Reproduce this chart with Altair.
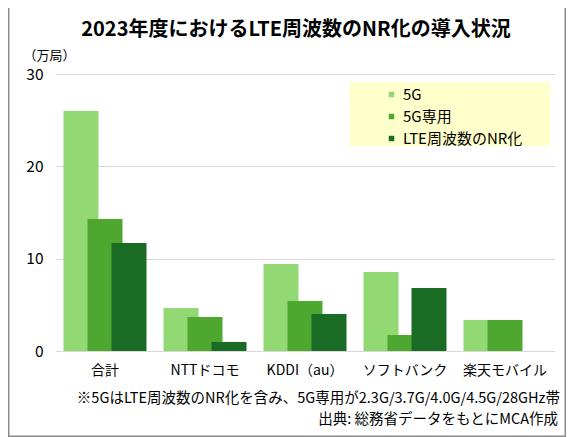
import pandas as pd
import altair as alt

FONT = "Noto Sans CJK JP"

companies = ["合計", "NTTドコモ", "KDDI（au）", "ソフトバンク", "楽天モバイル"]
series_names = ["5G", "5G専用", "LTE周波数のNR化"]
series_colors = ["#92D974", "#4EA72E", "#1A6B24"]

five_g = [26.0, 4.66, 9.43, 8.56, 3.36]
five_g_only = [14.3, 3.68, 5.42, 1.73, 3.36]
lte_nr = [11.7, 0.98, 4.0, 6.83, 0.0]

y_ticks = [0, 10, 20, 30]

title_text = "2023年度におけるLTE周波数のNR化の導入状況"
note_text = "※5GはLTE周波数のNR化を含み、5G専用が2.3G/3.7G/4.0G/4.5G/28GHz帯"
source_text = "出典: 総務省データをもとにMCA作成"

rows = []
for name, vals in zip(series_names, [five_g, five_g_only, lte_nr]):
    for c, v in zip(companies, vals):
        rows.append({"company": c, "series": name, "value": v})
df = pd.DataFrame(rows)

W, H = 500, 277
one = pd.DataFrame({"a": [0]})

x_enc = alt.X(
    "company:N",
    sort=companies,
    scale=alt.Scale(domain=companies, paddingInner=0, paddingOuter=0),
    axis=alt.Axis(labelAngle=0, domain=False, ticks=False, labelFontSize=14,
                  labelPadding=12, labelColor="#000000", labelFont=FONT, title=None),
)
y_enc = alt.Y(
    "value:Q",
    scale=alt.Scale(domain=[0, 30], nice=False),
    axis=alt.Axis(values=y_ticks, grid=True, gridColor="#D9D9D9", domain=False,
                  ticks=False, labelFontSize=15.5, labelPadding=12, labelColor="#000000",
                  labelFont=FONT, title="（万局）", titleAngle=0, titleAlign="left",
                  titleBaseline="middle", titleX=-32, titleY=-19, titleFontSize=13,
                  titleFontWeight="normal", titleFont=FONT, titleColor="#000000"),
)
color_enc = alt.Color(
    "series:N",
    scale=alt.Scale(domain=series_names, range=series_colors),
    legend=alt.Legend(orient="none", legendX=329, legendY=13, title=None,
                      symbolType="square", symbolSize=30, symbolStrokeWidth=0,
                      labelFontSize=15, labelFont=FONT, labelColor="#000000",
                      rowPadding=6, padding=0, labelOffset=4),
)

# overlapping clustered bars, drawn back to front
bars = []
for name, off in zip(series_names, [-24, 0, 24]):
    bars.append(
        alt.Chart(df)
        .transform_filter(alt.datum.series == name)
        .mark_bar(width=35, xOffset=off)
        .encode(x=x_enc, y=y_enc, color=color_enc)
    )

frame = alt.Chart(one).mark_rect(filled=False, stroke="#8C8C8C", strokeWidth=1.5).encode(
    x=alt.value(-46.25), x2=alt.value(510.25), y=alt.value(-73.25), y2=alt.value(362.25)
)
legend_box = alt.Chart(one).mark_rect(fill="#FFFFCC").encode(
    x=alt.value(295), x2=alt.value(495), y=alt.value(8), y2=alt.value(72)
)
title = alt.Chart(one).mark_text(
    text=title_text, font=FONT, fontSize=20, fontWeight="bold", color="#000000",
    align="center", baseline="alphabetic"
).encode(x=alt.value(241), y=alt.value(-38))
note = alt.Chart(one).mark_text(
    text=note_text, font=FONT, fontSize=14.5, color="#000000",
    align="right", baseline="middle"
).encode(x=alt.value(505), y=alt.value(324.5))
source = alt.Chart(one).mark_text(
    text=source_text, font=FONT, fontSize=14.5, color="#000000",
    align="right", baseline="middle"
).encode(x=alt.value(503), y=alt.value(346))

chart = (
    alt.layer(frame, legend_box, *bars, title, note, source)
    .properties(
        width=W, height=H,
        autosize=alt.AutoSizeParams(type="none"),
        padding={"left": 47, "top": 66, "right": 11, "bottom": 94},
        background="white",
    )
    .configure_view(stroke=None)
)

chart.save("out.html", embed_options={"renderer": "svg", "actions": False})
